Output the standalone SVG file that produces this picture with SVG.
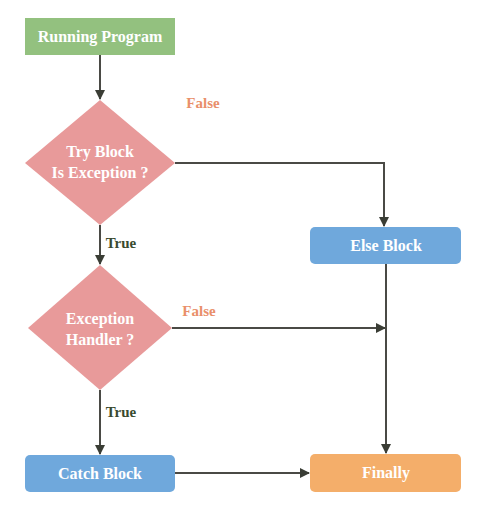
<svg xmlns="http://www.w3.org/2000/svg" width="477" height="519" viewBox="0 0 477 519" font-family="'Liberation Serif', 'DejaVu Serif', serif">
<style>
text{font-family:'Liberation Serif','DejaVu Serif',serif;font-weight:bold;text-anchor:middle}
.nt{fill:#ffffff;font-size:16px}
.f{fill:#e98f6a;font-size:15px}
.t{fill:#3a4a30;font-size:15px}
.c{stroke:#4a4a45;stroke-width:2;fill:none}
</style>
<defs>
<marker id="ah" markerWidth="10" markerHeight="10" refX="9" refY="5" orient="auto" markerUnits="userSpaceOnUse">
<path d="M0,0 L10,5 L0,10 z" fill="#3a3d35"/>
</marker>
</defs>
<rect width="477" height="519" fill="#ffffff"/>
<g id="connectors">
<path class="c" d="M100,55 V99" marker-end="url(#ah)"/>
<path class="c" d="M175,163 H384 V226" marker-end="url(#ah)"/>
<path class="c" d="M100,225 V264" marker-end="url(#ah)"/>
<path class="c" d="M172,328 H385" marker-end="url(#ah)"/>
<path class="c" d="M386,264 V453" marker-end="url(#ah)"/>
<path class="c" d="M100,390 V454" marker-end="url(#ah)"/>
<path class="c" d="M175,473 H309" marker-end="url(#ah)"/>
</g>
<g id="labels">
<text class="f" x="203" y="108">False</text>
<text class="t" x="121" y="248">True</text>
<text class="f" x="199" y="316">False</text>
<text class="t" x="121" y="417">True</text>
</g>
<g id="running-program">
<rect x="25" y="18" width="150" height="37" fill="#93c17f"/>
<text class="nt" x="100" y="42">Running Program</text>
</g>
<g id="try-block">
<polygon points="100,100 175,163 100,225 25,163" fill="#e89a9a"/>
<text class="nt" x="100" y="157">Try Block</text>
<text class="nt" x="100" y="178">Is Exception ?</text>
</g>
<g id="else-block">
<rect x="310" y="227" width="151" height="37" rx="5" fill="#6fa8dc"/>
<text class="nt" x="386" y="251">Else Block</text>
</g>
<g id="exception-handler">
<polygon points="100,265 172,328 100,390 28,328" fill="#e89a9a"/>
<text class="nt" x="100" y="324">Exception</text>
<text class="nt" x="100" y="345">Handler ?</text>
</g>
<g id="catch-block">
<rect x="25" y="455" width="150" height="37" rx="5" fill="#6fa8dc"/>
<text class="nt" x="100" y="479">Catch Block</text>
</g>
<g id="finally">
<rect x="310" y="454" width="151" height="38" rx="5" fill="#f4ae6a"/>
<text class="nt" x="386" y="478">Finally</text>
</g>
</svg>
